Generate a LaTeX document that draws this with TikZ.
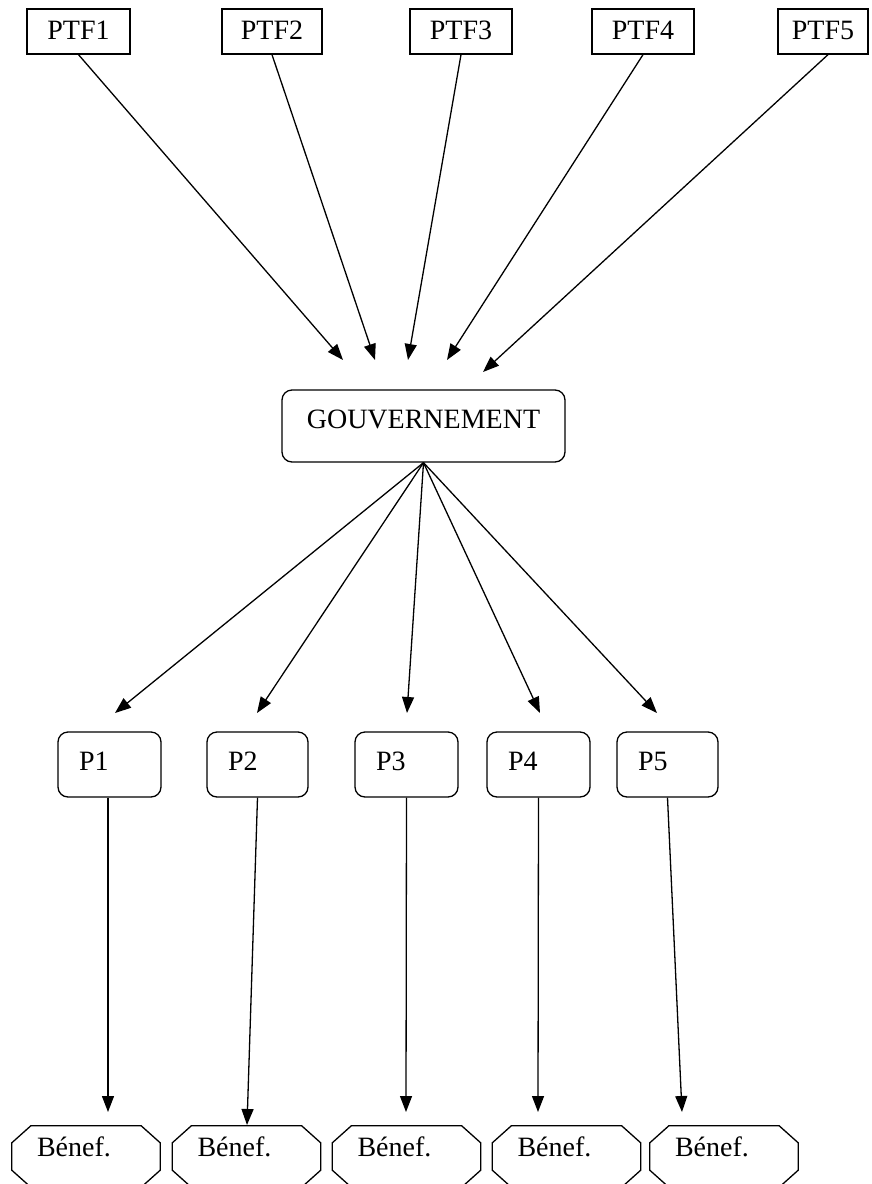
\documentclass[tikz,border=0pt]{standalone}
\usepackage{fontspec}
\setmainfont{Liberation Serif}
\usetikzlibrary{arrows.meta,calc}
\begin{document}
\begin{tikzpicture}[x=1pt,y=-1pt,
  every node/.style={font=\fontsize{28}{31}\selectfont, inner sep=0pt},
  ptfbox/.style={draw, line width=1.3pt, minimum height=45pt, text height=18pt, text depth=2pt},
  govbox/.style={draw, line width=1.3pt, rounded corners=10pt, minimum width=283pt, minimum height=72pt, text height=18pt, text depth=14pt},
  pbox/.style={draw, line width=1.3pt, rounded corners=10pt, minimum height=65pt, inner xsep=21pt, align=left, text height=18pt, text depth=7pt},
  bbox/.style={minimum height=61pt, inner xsep=25pt, text width=98pt, align=left, text height=18pt, text depth=19pt},
  conn/.style={line width=1.3pt, -{Triangle[length=16pt,width=12pt]}}]
\useasboundingbox (0,0) rectangle (871,1184);
\clip (0,0) rectangle (871,1184);
% top row
\node[ptfbox, minimum width=103pt] (ptf1) at (78.5,31.5) {PTF1};
\node[ptfbox, minimum width=100pt] (ptf2) at (272,31.5) {PTF2};
\node[ptfbox, minimum width=102pt] (ptf3) at (461,31.5) {PTF3};
\node[ptfbox, minimum width=102pt] (ptf4) at (643,31.5) {PTF4};
\node[ptfbox, minimum width=90pt] (ptf5) at (823,31.5) {PTF5};
% government
\node[govbox] (gov) at (423.5,426) {GOUVERNEMENT};
% projects
\node[pbox, text width=61pt] (p1) at (109.5,764.5) {P1};
\node[pbox, text width=59pt] (p2) at (257.5,764.5) {P2};
\node[pbox, text width=61pt] (p3) at (406.5,764.5) {P3};
\node[pbox, text width=61pt] (p4) at (538.5,764.5) {P4};
\node[pbox, text width=59pt] (p5) at (667.5,764.5) {P5};
% beneficiaries
\node[bbox] (b1) at (86,1156.5) {Bénef.};
\node[bbox] (b2) at (246.5,1156.5) {Bénef.};
\node[bbox] (b3) at (406.5,1156.5) {Bénef.};
\node[bbox] (b4) at (566.5,1156.5) {Bénef.};
\node[bbox] (b5) at (724,1156.5) {Bénef.};
\foreach \b in {b1,b2,b3,b4,b5}{
  \draw[line width=1.3pt]
    ($(\b.north west)+(19,0)$) -- ($(\b.north east)+(-19,0)$) --
    ($(\b.north east)+(0,17)$) -- ($(\b.south east)+(0,-17)$) --
    ($(\b.south east)+(-19,0)$) -- ($(\b.south west)+(19,0)$) --
    ($(\b.south west)+(0,-17)$) -- ($(\b.north west)+(0,17)$) -- cycle;
}
% arrow end points
\coordinate (g1) at (343,360);
\coordinate (g2) at (375,360);
\coordinate (g3) at (408,360);
\coordinate (g4) at (447,360);
\coordinate (g5) at (483,372);
\coordinate (q1) at (115,713);
\coordinate (q2) at (257,713);
\coordinate (q3) at (407,713);
\coordinate (q4) at (540,713);
\coordinate (q5) at (657,713);
\coordinate (r1) at (108,1112);
\coordinate (r2) at (247,1125);
\coordinate (r3) at (406,1112);
\coordinate (r4) at (538,1112);
\coordinate (r5) at (682,1112);
% connectors
\draw[conn] (ptf1.south) -- (g1);
\draw[conn] (ptf2.south) -- (g2);
\draw[conn] (ptf3.south) -- (g3);
\draw[conn] (ptf4.south) -- (g4);
\draw[conn] ($(ptf5.south)+(5,0)$) -- (g5);
\draw[conn] (gov.south) -- (q1);
\draw[conn] (gov.south) -- (q2);
\draw[conn] (gov.south) -- (q3);
\draw[conn] (gov.south) -- (q4);
\draw[conn] (gov.south) -- (q5);
\draw[conn] ($(p1.south)+(-1.5,0)$) -- (r1);
\draw[conn] (p2.south) -- (r2);
\draw[conn] (p3.south) -- (r3);
\draw[conn] (p4.south) -- (r4);
\draw[conn] (p5.south) -- (r5);
\end{tikzpicture}
\end{document}
